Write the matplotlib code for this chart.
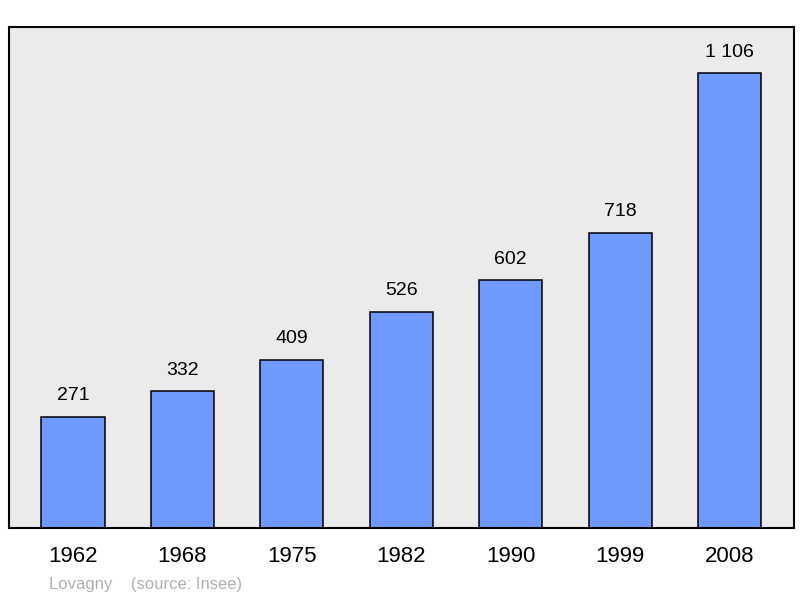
import matplotlib
matplotlib.use("Agg")
import matplotlib.pyplot as plt

years = ["1962", "1968", "1975", "1982", "1990", "1999", "2008"]
population = [271, 332, 409, 526, 602, 718, 1106]
value_labels = ["271", "332", "409", "526", "602", "718", "1 106"]

plt.rcParams["font.family"] = ["Liberation Sans", "DejaVu Sans"]

fig = plt.figure(figsize=(8, 5.98), dpi=100)
ax = fig.add_axes([9 / 800, 1 - 528 / 598, 785 / 800, 501 / 598])
ax.set_facecolor("#ebebeb")

x = range(len(years))
ax.bar(x, population, width=0.576, color="#7099ff", edgecolor="black", linewidth=1.1)
for i, (v, lab) in enumerate(zip(population, value_labels)):
    ax.text(i, v + 30, lab, ha="center", va="bottom", fontsize=14)

ax.set_xlim(-0.585, 6.59)
ax.set_ylim(0, 1218)
ax.set_xticks(list(x))
ax.set_xticklabels(years, fontsize=16)
ax.tick_params(axis="x", length=0, pad=13)
ax.set_yticks([])
for s in ax.spines.values():
    s.set_linewidth(1.5)

fig.text(49 / 800, 1 - 584 / 598, "Lovagny    (source: Insee)", color="#b0b0b0",
         fontsize=12, va="center")

fig.savefig("out.png", dpi=100)
